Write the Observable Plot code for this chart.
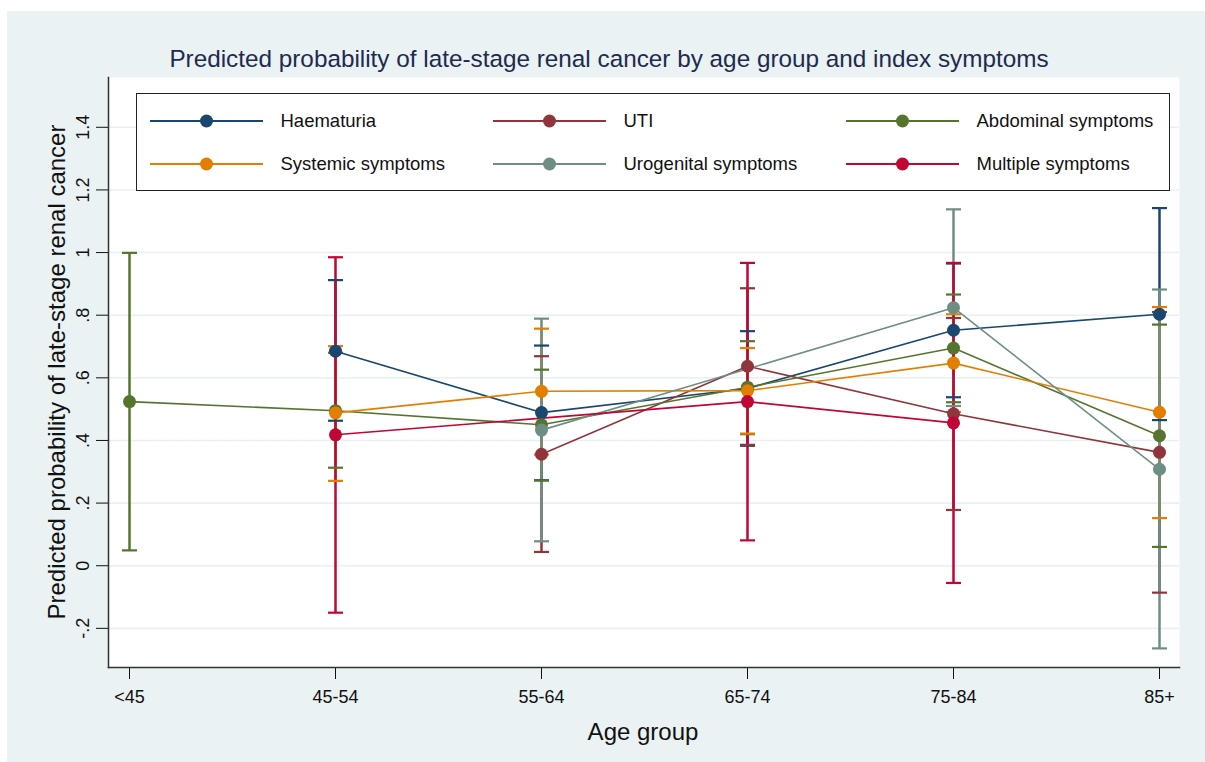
<!DOCTYPE html>
<html>
<head>
<meta charset="utf-8">
<script src="https://cdn.jsdelivr.net/npm/d3@7"></script>
<script src="https://cdn.jsdelivr.net/npm/@observablehq/plot@0.6"></script>
<style>
  html, body { margin: 0; padding: 0; background: #ffffff; }
  #wrap { position: relative; width: 1205px; height: 762px; overflow: hidden; font-family: "Liberation Sans", Arial, sans-serif; }
  #bg { position: absolute; left: 7px; top: 11px; right: 0; bottom: 0; background: #eaf2f3; }
  #chart { position: absolute; left: 0; top: 0; }
  #title { position: absolute; left: 7px; width: 1204px; top: 44px; text-align: center; font-size: 24.3px; color: #1e2b4f; white-space: nowrap; line-height: 30px; }
  #ytitle { position: absolute; left: 57px; top: 372px; transform: translate(-50%, -50%) rotate(-90deg); font-size: 24px; color: #111; white-space: nowrap; line-height: 28px; }
  #xtitle { position: absolute; left: 643px; top: 732px; transform: translate(-50%, -50%); font-size: 24px; color: #111; white-space: nowrap; line-height: 28px; }
  #legend { position: absolute; left: 136px; top: 93px; width: 1034px; height: 98px; box-sizing: border-box; border: 1.5px solid #222; background: #fff; }
  .item { position: absolute; height: 24px; }
  .item svg { position: absolute; left: 0; top: 0; }
  .item span { position: absolute; top: 0; line-height: 24px; font-size: 18.5px; color: #111; white-space: nowrap; }
</style>
</head>
<body>
<div id="wrap">
  <div id="bg"></div>
  <div id="chart"></div>
  <div id="title">Predicted probability of late-stage renal cancer by age group and index symptoms</div>
  <div id="ytitle">Predicted probability of late-stage renal cancer</div>
  <div id="xtitle">Age group</div>
  <div id="legend"></div>
</div>
<script>
// ---- Data ----
const ages = ["<45", "45-54", "55-64", "65-74", "75-84", "85+"];
const series = ["Haematuria", "UTI", "Abdominal symptoms", "Systemic symptoms", "Urogenital symptoms", "Multiple symptoms"];
const colors = ["#1a476f", "#90353b", "#55752f", "#e37e00", "#6e8e84", "#c10534"];

const haematuriaEst = [null, 0.685, 0.489, 0.566, 0.752, 0.803];
const haematuriaLo  = [null, 0.463, 0.273, 0.383, 0.538, 0.465];
const haematuriaHi  = [null, 0.912, 0.703, 0.749, 0.965, 1.142];

const utiEst = [null, null, 0.356, 0.637, 0.485, 0.362];
const utiLo  = [null, null, 0.044, 0.386, 0.178, -0.086];
const utiHi  = [null, null, 0.669, 0.886, 0.791, 0.810];

const abdominalEst = [0.524, 0.495, 0.450, 0.570, 0.695, 0.415];
const abdominalLo  = [0.049, 0.313, 0.272, 0.420, 0.522, 0.060];
const abdominalHi  = [0.999, 0.680, 0.626, 0.717, 0.866, 0.770];

const systemicEst = [null, 0.488, 0.557, 0.559, 0.647, 0.490];
const systemicLo  = [null, 0.271, 0.355, 0.422, 0.491, 0.152];
const systemicHi  = [null, 0.701, 0.757, 0.695, 0.803, 0.826];

const urogenitalEst = [null, null, 0.433, null, 0.824, 0.308];
const urogenitalLo  = [null, null, 0.078, null, 0.510, -0.264];
const urogenitalHi  = [null, null, 0.789, null, 1.138, 0.882];

const multipleEst = [null, 0.418, null, 0.524, 0.456, null];
const multipleLo  = [null, -0.150, null, 0.081, -0.055, null];
const multipleHi  = [null, 0.985, null, 0.967, 0.967, null];

const yTicks = [-0.2, 0, 0.2, 0.4, 0.6, 0.8, 1, 1.2, 1.4];

// ---- Build table ----
const seriesData = [
  [haematuriaEst, haematuriaLo, haematuriaHi],
  [utiEst, utiLo, utiHi],
  [abdominalEst, abdominalLo, abdominalHi],
  [systemicEst, systemicLo, systemicHi],
  [urogenitalEst, urogenitalLo, urogenitalHi],
  [multipleEst, multipleLo, multipleHi]
];
const rows = [];
seriesData.forEach(([est, lo, hi], s) => {
  ages.forEach((age, i) => {
    if (est[i] != null) rows.push({series: series[s], age, est: est[i], lo: lo[i], hi: hi[i]});
  });
});

const fmt = d => d === 0 ? "0" : String(d).replace("0.", ".");
const capSymbol = { draw(ctx) { ctx.moveTo(-7.5, 0); ctx.lineTo(7.5, 0); } };

const chart = Plot.plot({
  width: 1205,
  height: 762,
  marginLeft: 108,
  marginRight: 26,
  marginTop: 77,
  marginBottom: 95,
  style: { background: "transparent", fontFamily: "'Liberation Sans', Arial, sans-serif", fontSize: "18px", color: "#111" },
  x: { type: "point", domain: ages, range: [127, 1160], padding: 0 },
  y: { domain: [-0.325, 1.559] },
  color: { domain: series, range: colors },
  marks: [
    Plot.frame({ fill: "white", stroke: null }),
    Plot.ruleY(yTicks, { stroke: "#e8f0f2", strokeWidth: 1.6 }),
    Plot.ruleX(rows, { x: "age", y1: "lo", y2: "hi", stroke: "series", strokeWidth: 2.5 }),
    Plot.dot(rows, { x: "age", y: "lo", symbol: capSymbol, stroke: "series", fill: "none", strokeWidth: 2.2 }),
    Plot.dot(rows, { x: "age", y: "hi", symbol: capSymbol, stroke: "series", fill: "none", strokeWidth: 2.2 }),
    Plot.line(rows, { x: "age", y: "est", z: "series", stroke: "series", strokeWidth: 1.6 }),
    Plot.dot(rows, { x: "age", y: "est", fill: "series", r: 6.5 }),
    Plot.axisY({ ticks: yTicks, tickFormat: fmt, tickRotate: -90, tickSize: 12, tickPadding: 8, label: null, fontSize: 18 }),
    Plot.axisX({ tickSize: 12, tickPadding: 11, label: null, fontSize: 18 }),
    Plot.frame({ anchor: "left", stroke: "#333", strokeWidth: 1.5 }),
    Plot.frame({ anchor: "bottom", stroke: "#333", strokeWidth: 1.5 })
  ]
});
document.getElementById("chart").appendChild(chart);

// ---- Legend ----
const legend = document.getElementById("legend");
const colX = [150, 493, 846];
const rowY = [121, 164];
series.forEach((name, k) => {
  const r = Math.floor(k / 3), c = k % 3;
  const item = document.createElement("div");
  item.className = "item";
  item.style.left = (colX[c] - 136 - 1.5) + "px";
  item.style.top = (rowY[r] - 93 - 1.5 - 12) + "px";
  item.style.width = "320px";
  item.innerHTML = `<svg width="114" height="24"><line x1="0" y1="12" x2="113" y2="12" stroke="${colors[k]}" stroke-width="2"/><circle cx="56.5" cy="12" r="6.5" fill="${colors[k]}"/></svg><span style="left:131px">${name}</span>`;
  legend.appendChild(item);
});
</script>
</body>
</html>
